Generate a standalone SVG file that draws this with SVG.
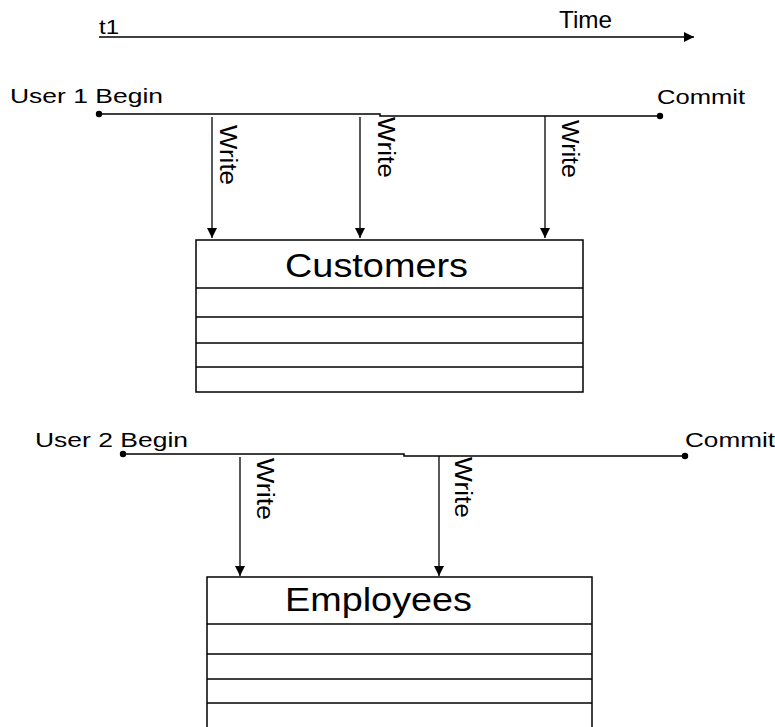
<svg xmlns="http://www.w3.org/2000/svg" width="775" height="727" viewBox="0 0 775 727">
<defs>
<marker id="ah" markerUnits="userSpaceOnUse" markerWidth="10" markerHeight="10" refX="10" refY="5" orient="auto">
<path d="M0,0 L10,5 L0,10 z" fill="#000"/>
</marker>
<style>
text{font-family:"Liberation Sans",Arial,sans-serif;fill:#000}
.lbl{font-size:21px}
.wr{font-size:23px}
.tbl{font-size:34px}
.ln{stroke:#000;stroke-width:1.5;fill:none}
.box{stroke:#000;stroke-width:1.5;fill:#fff}
.arr{stroke:#000;stroke-width:1.3;fill:none;marker-end:url(#ah)}
</style>
</defs>
<rect width="775" height="727" fill="#fff"/>

<g id="timeline">
<line class="ln" x1="99" y1="37" x2="694" y2="37" marker-end="url(#ah)"/>
<text class="lbl" x="99" y="34" font-size="22" textLength="20" lengthAdjust="spacingAndGlyphs">t1</text>
<text x="559" y="28" font-size="24" textLength="53" lengthAdjust="spacingAndGlyphs">Time</text>
</g>

<g id="user1">
<polyline class="ln" points="99,114 380,114 380,116 660,116"/>
<circle cx="99" cy="114" r="3.2" fill="#000"/>
<circle cx="660" cy="116" r="3.2" fill="#000"/>
<text class="lbl" x="10" y="103" textLength="153" lengthAdjust="spacingAndGlyphs">User 1 Begin</text>
<text class="lbl" x="657" y="104" textLength="88" lengthAdjust="spacingAndGlyphs">Commit</text>
</g>

<g id="user2">
<polyline class="ln" points="123,454 404,454 404,456 685,456"/>
<circle cx="123" cy="454" r="3.2" fill="#000"/>
<circle cx="685" cy="456" r="3.2" fill="#000"/>
<text class="lbl" x="35" y="447" textLength="153" lengthAdjust="spacingAndGlyphs">User 2 Begin</text>
<text class="lbl" x="685" y="447" textLength="90" lengthAdjust="spacingAndGlyphs">Commit</text>
</g>

<g id="customers">
<rect class="box" x="196" y="240" width="387" height="152"/>
<line class="ln" x1="196" y1="288" x2="583" y2="288"/>
<line class="ln" x1="196" y1="317" x2="583" y2="317"/>
<line class="ln" x1="196" y1="343" x2="583" y2="343"/>
<line class="ln" x1="196" y1="367" x2="583" y2="367"/>
<text class="tbl" x="285" y="277" textLength="183" lengthAdjust="spacingAndGlyphs">Customers</text>
</g>

<g id="employees">
<rect class="box" x="207" y="577" width="385" height="160"/>
<line class="ln" x1="207" y1="624" x2="592" y2="624"/>
<line class="ln" x1="207" y1="654" x2="592" y2="654"/>
<line class="ln" x1="207" y1="679" x2="592" y2="679"/>
<line class="ln" x1="207" y1="703" x2="592" y2="703"/>
<text class="tbl" x="285" y="611" textLength="187" lengthAdjust="spacingAndGlyphs">Employees</text>
</g>

<g id="connectors">
<line class="arr" x1="212" y1="117" x2="212" y2="238"/>
<line class="arr" x1="360" y1="117" x2="360" y2="238"/>
<line class="arr" x1="545" y1="116" x2="545" y2="238"/>
<line class="arr" x1="240" y1="457" x2="240" y2="576"/>
<line class="arr" x1="439" y1="456" x2="439" y2="576"/>
<text class="wr" transform="translate(220,125) rotate(90)" textLength="60" lengthAdjust="spacingAndGlyphs">Write</text>
<text class="wr" transform="translate(378,117) rotate(90)" textLength="61" lengthAdjust="spacingAndGlyphs">Write</text>
<text class="wr" transform="translate(562,120) rotate(90)" textLength="58" lengthAdjust="spacingAndGlyphs">Write</text>
<text class="wr" transform="translate(257,458) rotate(90)" textLength="62" lengthAdjust="spacingAndGlyphs">Write</text>
<text class="wr" transform="translate(455,457) rotate(90)" textLength="61" lengthAdjust="spacingAndGlyphs">Write</text>
</g>
</svg>
